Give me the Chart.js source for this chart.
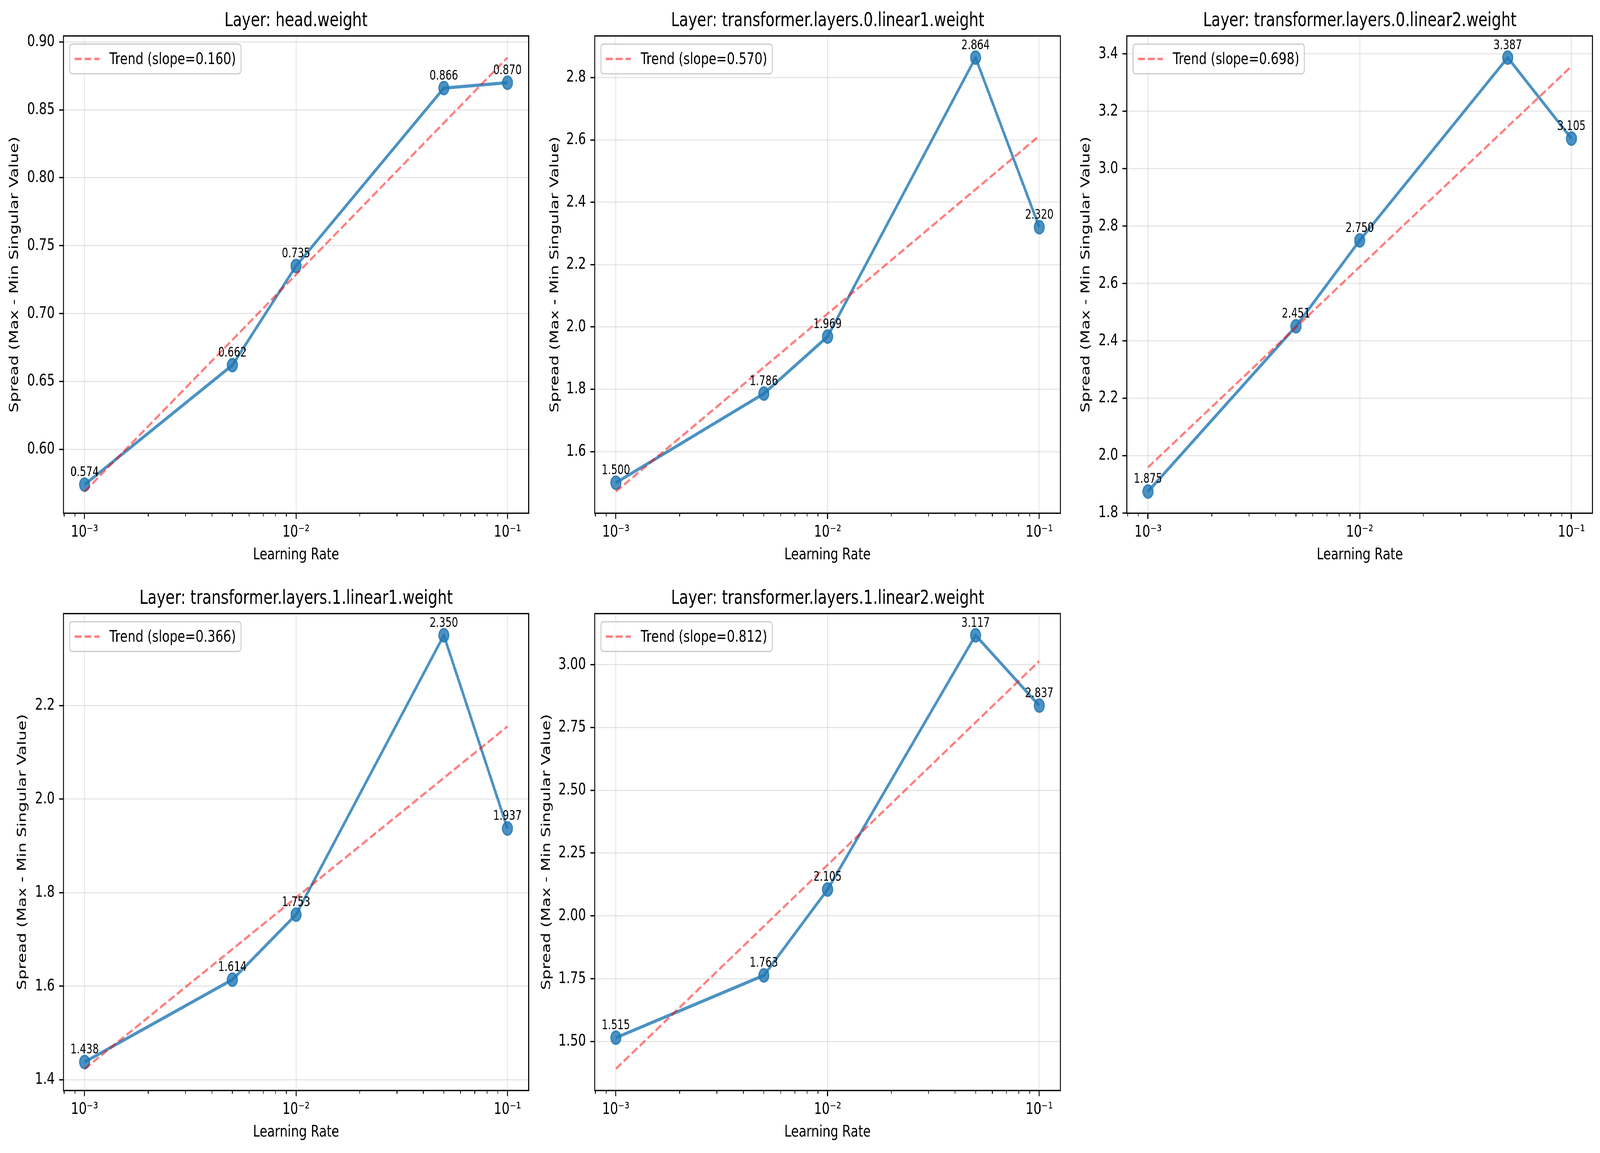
<!DOCTYPE html>
<html lang="en">
<head>
  <meta charset="UTF-8">
  <meta name="viewport" content="width=device-width, initial-scale=1.0">
  <title>Singular value spread vs learning rate</title>
  <script src="https://cdn.jsdelivr.net/npm/chart.js"></script>
  <style>
    html, body { margin: 0; padding: 0; background: #fff; overflow: hidden; }
    #page { position: relative; width: 5370px; height: 2952px; background: #fff; overflow: hidden; transform-origin: 0 0; }
    #page canvas { position: absolute; }
  </style>
</head>
<body>
<div id="page"></div>

<script>
  // values
  const learningRates = [0.001, 0.005, 0.01, 0.05, 0.1];
  const layerNames = [
    'head.weight',
    'transformer.layers.0.linear1.weight',
    'transformer.layers.0.linear2.weight',
    'transformer.layers.1.linear1.weight',
    'transformer.layers.1.linear2.weight'
  ];
  const spreadHead = [0.574, 0.662, 0.735, 0.866, 0.870];
  const spreadL0Linear1 = [1.500, 1.786, 1.969, 2.864, 2.320];
  const spreadL0Linear2 = [1.875, 2.451, 2.750, 3.387, 3.105];
  const spreadL1Linear1 = [1.438, 1.614, 1.753, 2.350, 1.937];
  const spreadL1Linear2 = [1.515, 1.763, 2.105, 3.117, 2.837];
  const spreads = [spreadHead, spreadL0Linear1, spreadL0Linear2, spreadL1Linear1, spreadL1Linear2];
  const trendSlopeLabels = ['0.160', '0.570', '0.698', '0.366', '0.812'];

  const xTickValues = [0.001, 0.01, 0.1];
  const xTickLabels = ['10\u207B\u00B3', '10\u207B\u00B2', '10\u207B\u00B9'];
  const yTickSteps = [0.05, 0.2, 0.2, 0.2, 0.25];
  const yTickDecimals = [2, 1, 1, 1, 2];

  // layout of the axes boxes (pixels of the 5370x2952 figure)
  const panelBoxes = [
    { x: 213, y: 92, w: 1567, h: 1222 },
    { x: 1996, y: 92, w: 1569, h: 1222 },
    { x: 3782, y: 92, w: 1569, h: 1222 },
    { x: 213, y: 1571, w: 1567, h: 1221 },
    { x: 1996, y: 1571, w: 1569, h: 1221 }
  ];
  const yLabelOffsets = [164, 133, 137, 137, 161]; // axis edge -> centre of y label

  const FIG_W = 5370, FIG_H = 2952;
  const PT = 300 / 72;          // figure was saved at 300 dpi
  const FONT = '"DejaVu Sans"';
  const Y_AXIS_W = 213, TOP_PAD = 92, X_AXIS_H = 150, RIGHT_PAD = 15;
  const BLUE = 'rgba(31,119,180,0.8)';
  const RED = 'rgba(255,0,0,0.5)';
  const GRID = 'rgba(176,176,176,0.3)';

  // the window may be narrower than the figure: stretch the figure onto it
  const page = document.getElementById('page');
  const sx = (window.innerWidth || FIG_W) / FIG_W;
  const sy = (window.innerHeight || FIG_H) / FIG_H;
  page.style.transform = 'scale(' + sx + ',' + sy + ')';
  document.body.style.width = (FIG_W * sx) + 'px';
  document.body.style.height = (FIG_H * sy) + 'px';

  // least squares fit of spread against log10(lr)
  function fitTrend(ys) {
    const xs = learningRates.map(v => Math.log10(v));
    const n = xs.length;
    const mx = xs.reduce((a, b) => a + b) / n;
    const my = ys.reduce((a, b) => a + b) / n;
    let sxy = 0, sxx = 0;
    xs.forEach((x, k) => { sxy += (x - mx) * (ys[k] - my); sxx += (x - mx) * (x - mx); });
    const slope = sxy / sxx;
    return xs.map(x => my + slope * (x - mx));
  }

  const decorPlugin = {
    id: 'decor',
    afterDraw(chart, args, opts) {
      const { ctx, chartArea: ca } = chart;
      const xs = chart.scales.x, ys = chart.scales.y;
      const i = opts.panel;
      ctx.save();

      // minor ticks of the log axis
      ctx.strokeStyle = '#000';
      ctx.lineWidth = 0.6 * PT;
      for (let e = -4; e <= 0; e++) {
        for (let m = 2; m <= 9; m++) {
          const v = m * Math.pow(10, e);
          if (v < xs.min || v > xs.max) continue;
          const px = xs.getPixelForValue(v);
          ctx.beginPath();
          ctx.moveTo(px, ca.bottom);
          ctx.lineTo(px, ca.bottom + 2 * PT);
          ctx.stroke();
        }
      }

      // spines
      ctx.lineWidth = 0.8 * PT;
      ctx.strokeRect(ca.left, ca.top, ca.right - ca.left, ca.bottom - ca.top);

      // value labels over the points
      ctx.fillStyle = '#000';
      ctx.font = (8 * PT) + 'px ' + FONT;
      ctx.textAlign = 'center';
      ctx.textBaseline = 'alphabetic';
      spreads[i].forEach((v, k) => {
        const px = xs.getPixelForValue(learningRates[k]);
        const py = ys.getPixelForValue(v);
        ctx.fillText(v.toFixed(3), px, py - 22);
      });

      // legend
      const fs = 10 * PT;
      ctx.font = fs + 'px ' + FONT;
      const label = 'Trend (slope=' + trendSlopeLabels[i] + ')';
      const tw = ctx.measureText(label).width;
      const bx = ca.left + 0.5 * fs, by = ca.top + 0.5 * fs;
      const bw = 0.4 * fs + 2 * fs + 0.8 * fs + tw + 0.4 * fs, bh = 76;
      ctx.beginPath();
      ctx.roundRect(bx, by, bw, bh, 0.2 * fs);
      ctx.fillStyle = 'rgba(255,255,255,0.8)';
      ctx.fill();
      ctx.strokeStyle = '#cccccc';
      ctx.lineWidth = 0.8 * PT;
      ctx.stroke();
      const hy = by + bh / 2;
      ctx.beginPath();
      ctx.setLineDash([3.7 * 1.5 * PT, 1.6 * 1.5 * PT]);
      ctx.strokeStyle = RED;
      ctx.lineWidth = 1.5 * PT;
      ctx.moveTo(bx + 0.4 * fs, hy);
      ctx.lineTo(bx + 2.4 * fs, hy);
      ctx.stroke();
      ctx.setLineDash([]);
      ctx.fillStyle = '#000';
      ctx.textAlign = 'left';
      ctx.textBaseline = 'middle';
      ctx.fillText(label, bx + 3.2 * fs, hy + 2);

      // panel title
      ctx.font = (12 * PT) + 'px ' + FONT;
      ctx.textAlign = 'center';
      ctx.textBaseline = 'alphabetic';
      ctx.fillText('Layer: ' + layerNames[i], (ca.left + ca.right) / 2, ca.top - 6 * PT);

      ctx.restore();
    }
  };

  layerNames.forEach((name, i) => {
    const box = panelBoxes[i];
    const canvas = document.createElement('canvas');
    canvas.width = Y_AXIS_W + box.w + RIGHT_PAD;
    canvas.height = TOP_PAD + box.h + X_AXIS_H;
    canvas.style.width = canvas.width + 'px';
    canvas.style.height = canvas.height + 'px';
    canvas.style.left = (box.x - Y_AXIS_W) + 'px';
    canvas.style.top = (box.y - TOP_PAD) + 'px';
    page.appendChild(canvas);

    const ys = spreads[i];
    const trend = fitTrend(ys);
    const all = ys.concat(trend);
    const lo = Math.min(...all), hi = Math.max(...all);
    const margin = (hi - lo) * 0.05;
    const lrLogMin = Math.log10(learningRates[0]), lrLogMax = Math.log10(learningRates[learningRates.length - 1]);
    const lm = (lrLogMax - lrLogMin) * 0.05;

    const tickFont = { family: 'DejaVu Sans', size: 10 * PT, lineHeight: 1.2 };

    new Chart(canvas, {
      type: 'line',
      data: {
        datasets: [
          {
            label: 'Trend',
            data: learningRates.map((x, k) => ({ x: x, y: trend[k] })),
            borderColor: RED,
            borderWidth: 1.5 * PT,
            borderDash: [3.7 * 1.5 * PT, 1.6 * 1.5 * PT],
            pointRadius: 0,
            fill: false
          },
          {
            label: name,
            data: learningRates.map((x, k) => ({ x: x, y: ys[k] })),
            borderColor: BLUE,
            backgroundColor: BLUE,
            borderWidth: 2 * PT,
            borderJoinStyle: 'round',
            pointRadius: 4 * PT,
            pointHoverRadius: 4 * PT,
            pointBorderWidth: 1 * PT,
            pointBackgroundColor: BLUE,
            pointBorderColor: BLUE,
            fill: false
          }
        ]
      },
      options: {
        responsive: false,
        animation: false,
        devicePixelRatio: 1,
        events: [],
        layout: { padding: { top: TOP_PAD, right: RIGHT_PAD, left: 0, bottom: 0 } },
        plugins: {
          legend: { display: false },
          tooltip: { enabled: false },
          title: { display: false },
          decor: { panel: i }
        },
        scales: {
          x: {
            type: 'logarithmic',
            min: Math.pow(10, lrLogMin - lm),
            max: Math.pow(10, lrLogMax + lm),
            afterBuildTicks: s => { s.ticks = xTickValues.map(v => ({ value: v })); },
            afterFit: s => { s.height = X_AXIS_H; },
            ticks: {
              autoSkip: false,
              maxRotation: 0,
              padding: 10,
              color: '#000',
              font: tickFont,
              callback: v => {
                const k = xTickValues.findIndex(t => Math.abs(t - v) / t < 1e-6);
                return k >= 0 ? xTickLabels[k] : '';
              }
            },
            grid: {
              color: GRID,
              lineWidth: 0.8 * PT,
              tickColor: '#000',
              tickWidth: 0.8 * PT,
              tickLength: 3.5 * PT
            },
            border: { display: false },
            title: {
              display: true,
              text: 'Learning Rate',
              color: '#000',
              font: tickFont,
              padding: { top: 0, bottom: 18 }
            }
          },
          y: {
            type: 'linear',
            min: lo - margin,
            max: hi + margin,
            afterBuildTicks: s => {
              const step = yTickSteps[i];
              const t = [];
              for (let k = Math.ceil(s.min / step - 1e-9); k * step <= s.max + 1e-9; k++) {
                t.push({ value: +(k * step).toFixed(6) });
              }
              s.ticks = t;
            },
            afterFit: s => { s.width = Y_AXIS_W; },
            ticks: {
              padding: 3.5 * PT,
              color: '#000',
              font: tickFont,
              callback: v => Number(v).toFixed(yTickDecimals[i])
            },
            grid: {
              color: GRID,
              lineWidth: 0.8 * PT,
              tickColor: '#000',
              tickWidth: 0.8 * PT,
              tickLength: 3.5 * PT
            },
            border: { display: false },
            title: {
              display: true,
              text: 'Spread (Max - Min Singular Value)',
              color: '#000',
              font: tickFont,
              padding: { top: Y_AXIS_W - yLabelOffsets[i] - 25, bottom: 0 }
            }
          }
        }
      },
      plugins: [decorPlugin]
    });
  });
</script>
</body>
</html>
